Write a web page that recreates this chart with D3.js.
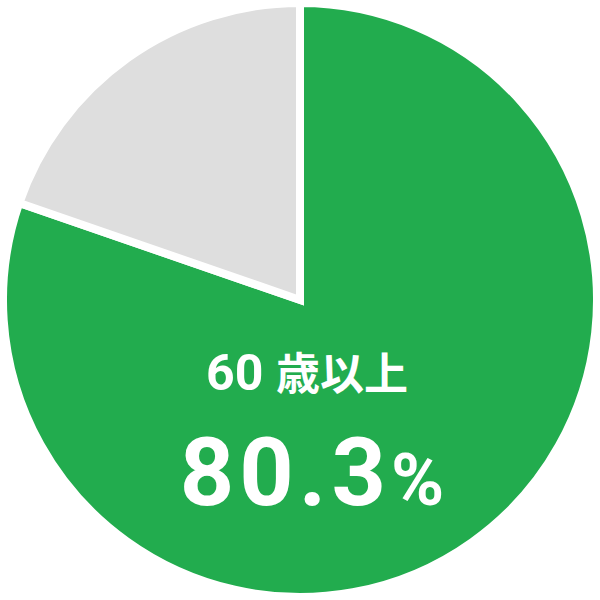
<!DOCTYPE html>
<html><head><meta charset="utf-8">
<script src="https://cdn.jsdelivr.net/npm/d3@7"></script>
<style>html,body{margin:0;padding:0;background:#fff;}</style>
</head><body>
<svg id="chart" width="600" height="600"></svg>
<script>
const categories = ["60歳以上", "その他"];
const values = [80.3, 19.7];
const colors = ["#22ac4e", "#dedede"];

const svg = d3.select("#chart");
const cx = 300, cy = 300, r = 297;
const g = svg.append("g").attr("transform", `translate(${cx},${cy})`);
const pie = d3.pie().sort(null).value(d => d)(values);
const arc = d3.arc().innerRadius(0).outerRadius(r);
g.selectAll("path").data(pie).enter().append("path")
  .attr("d", arc)
  .attr("fill", (d, i) => colors[i])
  .attr("stroke", "#fff")
  .attr("stroke-width", 8)
  .attr("stroke-linejoin", "miter");

const font = "Roboto, 'Noto Sans CJK JP', sans-serif";
const t1 = svg.append("text").attr("x", 307).attr("y", 390)
  .attr("text-anchor", "middle").attr("fill", "#fff")
  .attr("font-family", font).attr("font-weight", 700).attr("font-size", 50);
t1.append("tspan").text("60 ");
t1.append("tspan").attr("font-family", "'Noto Sans CJK JP', sans-serif").attr("font-size", 44).text(categories[0].slice(2));

const t2 = svg.append("text").attr("x", 312).attr("y", 505)
  .attr("text-anchor", "middle").attr("fill", "#fff")
  .attr("font-family", font).attr("font-weight", 700).attr("font-size", 95);
t2.append("tspan").attr("letter-spacing", 5).text(values[0].toFixed(1));
t2.append("tspan").attr("font-size", 72).text("%");
</script>
</body></html>
